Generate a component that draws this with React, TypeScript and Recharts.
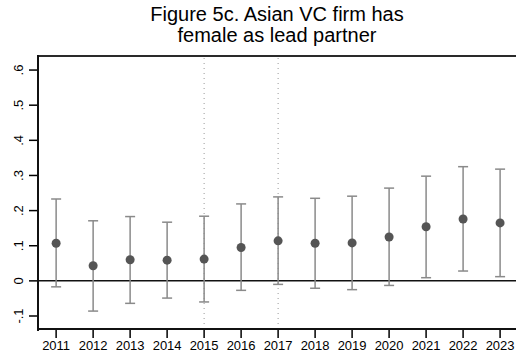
import React from 'react';
import { ScatterChart, Scatter, XAxis, YAxis, ErrorBar, ReferenceLine } from 'recharts';

const years = [2011, 2012, 2013, 2014, 2015, 2016, 2017, 2018, 2019, 2020, 2021, 2022, 2023];
const estimates = [0.107, 0.043, 0.06, 0.059, 0.062, 0.095, 0.114, 0.107, 0.108, 0.125, 0.154, 0.176, 0.165];
const lowerCI = [-0.017, -0.086, -0.064, -0.049, -0.06, -0.027, -0.01, -0.021, -0.025, -0.013, 0.009, 0.028, 0.012];
const upperCI = [0.233, 0.171, 0.183, 0.167, 0.184, 0.219, 0.239, 0.235, 0.241, 0.264, 0.298, 0.325, 0.318];
const yTicks = [-0.1, 0, 0.1, 0.2, 0.3, 0.4, 0.5, 0.6];
const eventYears = [2015, 2017];
const titleLines = ['Figure 5c. Asian VC firm has', 'female as lead partner'];

const X_DOMAIN: [number, number] = [2010.51, 2023.43];
const Y_DOMAIN: [number, number] = [-0.137, 0.64];

const data = years.map((year, i) => ({
  year,
  coef: estimates[i],
  err: [estimates[i] - lowerCI[i], upperCI[i] - estimates[i]],
}));

const FONT = '"Liberation Sans", Arial, Helvetica, sans-serif';

// stata-style labels: ".6", "-.1", "0"
const fmt = (v: number) => {
  if (Math.abs(v) < 1e-9) return '0';
  return v.toFixed(1).replace('0.', '.');
};

const YTick = (props: any) => {
  const { y, payload } = props;
  return (
    <text
      transform={`translate(23,${y}) rotate(-90)`}
      textAnchor="middle"
      fontSize={13}
      fontFamily={FONT}
      fill="#000"
    >
      {fmt(payload.value)}
    </text>
  );
};

const Dot = (props: any) => <circle cx={props.cx} cy={props.cy} r={4.5} fill="#555555" />;

const edge = (left: number, top: number, width: number, height: number, color: string) => (
  <div
    style={{
      position: 'absolute',
      left,
      top,
      width,
      height,
      background: color,
      pointerEvents: 'none',
    }}
  />
);

export default function App() {
  return (
    <div style={{ position: 'absolute', left: 0, top: 0, width: 516, height: 360, background: '#fff' }}>
      {titleLines.map((line, i) => (
        <div
          key={line}
          style={{
            position: 'absolute',
            left: 38,
            width: 478,
            top: 4 + i * 21,
            height: 20,
            textAlign: 'center',
            fontFamily: FONT,
            fontSize: 20,
            lineHeight: '20px',
            color: '#000',
          }}
        >
          {line}
        </div>
      ))}
      <ScatterChart width={516} height={360} margin={{ top: 56, right: 0, bottom: 0, left: 0 }}>
        <XAxis
          type="number"
          dataKey="year"
          domain={X_DOMAIN}
          ticks={years}
          interval={0}
          height={31}
          tickSize={9}
          axisLine={false}
          tickLine={{ stroke: '#000', strokeWidth: 1.5 }}
          tick={{ fontSize: 13, fontFamily: FONT, fill: '#000' }}
          tickMargin={3}
        />
        <YAxis
          type="number"
          dataKey="coef"
          domain={Y_DOMAIN}
          ticks={yTicks}
          width={38}
          tickSize={9}
          axisLine={false}
          tickLine={{ stroke: '#000', strokeWidth: 1.5 }}
          tick={<YTick />}
        />
        {eventYears.map((yr) => (
          <ReferenceLine key={yr} x={yr} stroke="#999" strokeWidth={1} strokeDasharray="1 4" />
        ))}
        <ReferenceLine y={0} stroke="#111" strokeWidth={1.5} />
        <Scatter data={data} dataKey="coef" shape={<Dot />} isAnimationActive={false}>
          <ErrorBar dataKey="err" direction="y" width={5} stroke="#8a8a8a" strokeWidth={1.5} />
        </Scatter>
      </ScatterChart>
      {/* plot frame: top, left and bottom edges */}
      {edge(37, 55, 479, 2, '#2a2a2a')}
      {edge(37, 55, 2, 276, '#111')}
      {edge(37, 328, 479, 2, '#111')}
    </div>
  );
}
